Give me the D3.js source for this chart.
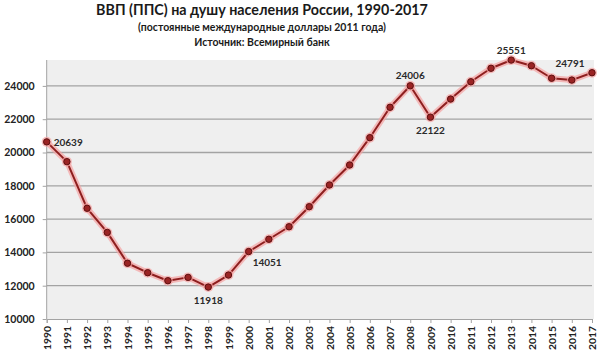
<!DOCTYPE html>
<html>
<head>
<meta charset="utf-8">
<script src="https://cdn.jsdelivr.net/npm/d3@7"></script>
<style>
  body { margin: 0; background: #fff; }
  text { font-family: Lato, "Open Sans", sans-serif; font-weight: bold; }
</style>
</head>
<body>
<div id="chart"></div>
<script>
const years = d3.range(1990, 2018)
const gdp = [20639, 19450, 16650, 15200, 13350, 12780, 12300, 12500, 11918, 12640,
    14051, 14790, 15540, 16745, 18050, 19250, 20890, 22715, 24006, 22122,
    23210, 24250, 25060, 25551, 25210, 24460, 24350, 24791]
const yTicks = [10000, 12000, 14000, 16000, 18000, 20000, 22000, 24000]
const titleLines = [
    "ВВП (ППС) на душу населения России, 1990-2017",
    "(постоянные международные доллары 2011 года)",
    "Источник: Всемирный банк"
]
// which points get a value label, and where
const labeled = [
    { year: 1990, pos: "right" },
    { year: 1998, pos: "below" },
    { year: 2000, pos: "belowRight" },
    { year: 2008, pos: "above" },
    { year: 2009, pos: "below" },
    { year: 2013, pos: "above" },
    { year: 2017, pos: "aboveLeft" }
]

const width = 600, height = 355
const margin = { top: 60, right: 8, bottom: 36, left: 46.7 }

const svg = d3.select("#chart")
    .append("svg")
    .attr("width", width)
    .attr("height", height)

const xScale = d3.scaleLinear()
    .domain([1990, 2017])
    .range([margin.left, width - margin.right])

const yScale = d3.scaleLinear()
    .domain([10000, 26000])
    .range([height - margin.bottom, 52.6])

// plot background
svg.append("rect")
    .attr("x", margin.left)
    .attr("y", margin.top)
    .attr("width", width - margin.right - margin.left + 2)
    .attr("height", height - margin.bottom - margin.top)
    .attr("fill", "#efefef")

// gridlines
svg.append("g")
    .selectAll("line")
    .data(yTicks.slice(1))
    .join("line")
    .attr("x1", margin.left)
    .attr("x2", width - margin.right)
    .attr("y1", d => yScale(d))
    .attr("y2", d => yScale(d))
    .attr("stroke", "#a3a3a3")
    .attr("stroke-width", 1.3)

// axes
const yAxis = d3.axisLeft(yScale).tickValues(yTicks).tickFormat(d3.format("d")).tickSize(4).tickPadding(8)
const yG = svg.append("g")
    .attr("transform", `translate(${margin.left}, 0)`)
    .call(yAxis)
yG.select(".domain").attr("stroke", "#a3a3a3").attr("d", `M0,${yScale(10000)}V${margin.top}`)
yG.selectAll(".tick line").attr("stroke", "#a3a3a3")
yG.selectAll("text").attr("font-size", 10.5).attr("fill", "#222")

const xAxis = d3.axisBottom(xScale).tickValues(years).tickFormat(d3.format("d")).tickSize(4)
const xG = svg.append("g")
    .attr("transform", `translate(0, ${yScale(10000)})`)
    .call(xAxis)
xG.select(".domain").attr("stroke", "#a3a3a3")
xG.selectAll(".tick line").attr("stroke", "#a3a3a3")
xG.selectAll("text")
    .attr("font-size", 10.3)
    .attr("fill", "#222")
    .attr("text-anchor", "end")
    .attr("transform", "translate(0, 7) rotate(-90)")
    .attr("x", 0)
    .attr("y", 0)
    .attr("dy", "0.35em")

const data = years.map((y, i) => ({ year: y, value: gdp[i] }))

const line = d3.line()
    .x(d => xScale(d.year))
    .y(d => yScale(d.value))

const lineGroup = svg.append("g")

// soft glow under the line
lineGroup.append("path")
    .datum(data)
    .attr("d", line)
    .attr("fill", "none")
    .attr("stroke", "#f5a3a3")
    .attr("stroke-width", 6)
    .attr("stroke-opacity", 0.7)
    .attr("stroke-linejoin", "round")

lineGroup.append("path")
    .datum(data)
    .attr("d", line)
    .attr("fill", "none")
    .attr("stroke", "#8e1f1f")
    .attr("stroke-width", 2)
    .attr("stroke-linejoin", "round")

lineGroup.selectAll("circle.glow")
    .data(data)
    .join("circle")
    .attr("class", "glow")
    .attr("cx", d => xScale(d.year))
    .attr("cy", d => yScale(d.value))
    .attr("r", 5)
    .attr("fill", "#f5a3a3")
    .attr("fill-opacity", 0.7)

lineGroup.selectAll("circle.dot")
    .data(data)
    .join("circle")
    .attr("class", "dot")
    .attr("cx", d => xScale(d.year))
    .attr("cy", d => yScale(d.value))
    .attr("r", 3.2)
    .attr("fill", "#9a2424")
    .attr("stroke", "#5e1010")
    .attr("stroke-width", 1)

// value labels
const offsets = {
    right: { dx: 7, dy: 1, anchor: "start" },
    below: { dx: 0, dy: 13, anchor: "middle" },
    belowRight: { dx: 4, dy: 11, anchor: "start" },
    above: { dx: 0, dy: -10, anchor: "middle" },
    aboveLeft: { dx: -22, dy: -9, anchor: "middle" }
}
svg.append("g")
    .selectAll("text")
    .data(labeled)
    .join("text")
    .attr("x", d => xScale(d.year) + offsets[d.pos].dx)
    .attr("y", d => yScale(gdp[years.indexOf(d.year)]) + offsets[d.pos].dy)
    .attr("dy", "0.35em")
    .attr("text-anchor", d => offsets[d.pos].anchor)
    .attr("font-size", 10)
    .attr("fill", "#2a2a2a")
    .text(d => gdp[years.indexOf(d.year)])

// titles
const titleSizes = [14.3, 10.5, 10.5]
const titleY = [15, 31, 46]
svg.append("g")
    .selectAll("text")
    .data(titleLines)
    .join("text")
    .attr("x", 262)
    .attr("y", (d, i) => titleY[i])
    .attr("text-anchor", "middle")
    .attr("font-size", (d, i) => titleSizes[i])
    .attr("fill", "#1a1a1a")
    .text(d => d)
</script>
</body>
</html>
